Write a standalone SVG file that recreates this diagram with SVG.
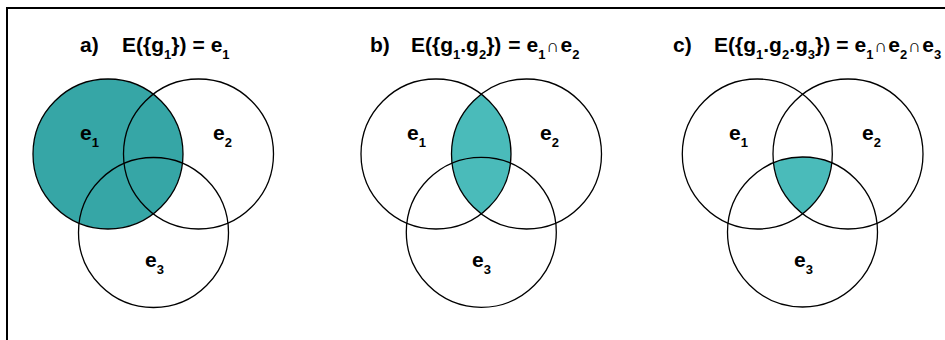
<svg xmlns="http://www.w3.org/2000/svg" width="945" height="340" viewBox="0 0 945 340">
<style>
.c{fill:none;stroke:#000;stroke-width:1.3}
.t{font-family:"Liberation Sans",Arial,sans-serif;font-weight:bold;font-size:21px;fill:#000}
.s{font-size:13px}
.n{font-weight:normal;font-size:18px}
.l{font-family:"Liberation Sans",Arial,sans-serif;font-weight:bold;font-size:21px;fill:#000}
.ls{font-size:13px}
</style>
<defs>
<clipPath id="b2"><circle cx="526.5" cy="154" r="75"/></clipPath>
<clipPath id="c2"><circle cx="848" cy="154" r="75"/></clipPath>
<clipPath id="c3"><circle cx="802.5" cy="232" r="75"/></clipPath>
</defs>
<rect x="0" y="0" width="945" height="340" fill="#fff"/>
<path d="M7,345 V8 H950" fill="none" stroke="#000" stroke-width="2"/>

<g id="panel-a">
<circle cx="108" cy="154" r="75" fill="#36a6a6"/>
<circle class="c" cx="108" cy="154" r="75"/>
<circle class="c" cx="198.5" cy="154" r="75"/>
<circle class="c" cx="153.5" cy="232.5" r="75"/>
<text class="t" x="80" y="52">a)</text>
<text class="t" x="122" y="52">E({g<tspan class="s" dy="7">1</tspan><tspan dy="-7">})</tspan><tspan dx="6">=</tspan><tspan dx="6">e</tspan><tspan class="s" dy="7">1</tspan></text>
<text class="l" x="80" y="140">e<tspan class="ls" dy="7">1</tspan></text>
<text class="l" x="213" y="140">e<tspan class="ls" dy="7">2</tspan></text>
<text class="l" x="145" y="267">e<tspan class="ls" dy="7">3</tspan></text>
</g>

<g id="panel-b">
<circle cx="436" cy="154" r="75" fill="#4abbba" clip-path="url(#b2)"/>
<circle class="c" cx="436" cy="154" r="75"/>
<circle class="c" cx="526.5" cy="154" r="75"/>
<circle class="c" cx="481.3" cy="232.3" r="75"/>
<text class="t" x="370" y="52">b)</text>
<text class="t" x="411" y="52">E({g<tspan class="s" dy="7">1</tspan><tspan dy="-7">.g</tspan><tspan class="s" dy="7">2</tspan><tspan dy="-7">})</tspan><tspan dx="7">=</tspan><tspan dx="6">e</tspan><tspan class="s" dy="7">1</tspan><tspan class="n" dx="1" dy="-7">∩</tspan><tspan dx="1">e</tspan><tspan class="s" dy="7">2</tspan></text>
<text class="l" x="407" y="140">e<tspan class="ls" dy="7">1</tspan></text>
<text class="l" x="540" y="140">e<tspan class="ls" dy="7">2</tspan></text>
<text class="l" x="472" y="267">e<tspan class="ls" dy="7">3</tspan></text>
</g>

<g id="panel-c">
<g clip-path="url(#c3)"><circle cx="757.3" cy="154" r="75" fill="#4abbba" clip-path="url(#c2)"/></g>
<circle class="c" cx="757.3" cy="154" r="75"/>
<circle class="c" cx="848" cy="154" r="75"/>
<circle class="c" cx="802.5" cy="232" r="75"/>
<text class="t" x="673" y="52">c)</text>
<text class="t" x="714" y="52">E({g<tspan class="s" dy="7">1</tspan><tspan dy="-7">.g</tspan><tspan class="s" dy="7">2</tspan><tspan dy="-7">.g</tspan><tspan class="s" dy="7">3</tspan><tspan dy="-7">})</tspan><tspan dx="6">=</tspan><tspan dx="6">e</tspan><tspan class="s" dy="7">1</tspan><tspan class="n" dx="1" dy="-7">∩</tspan><tspan dx="1">e</tspan><tspan class="s" dy="7">2</tspan><tspan class="n" dx="1" dy="-7">∩</tspan><tspan dx="1">e</tspan><tspan class="s" dy="7">3</tspan></text>
<text class="l" x="729" y="140">e<tspan class="ls" dy="7">1</tspan></text>
<text class="l" x="862" y="140">e<tspan class="ls" dy="7">2</tspan></text>
<text class="l" x="794" y="267">e<tspan class="ls" dy="7">3</tspan></text>
</g>
</svg>
